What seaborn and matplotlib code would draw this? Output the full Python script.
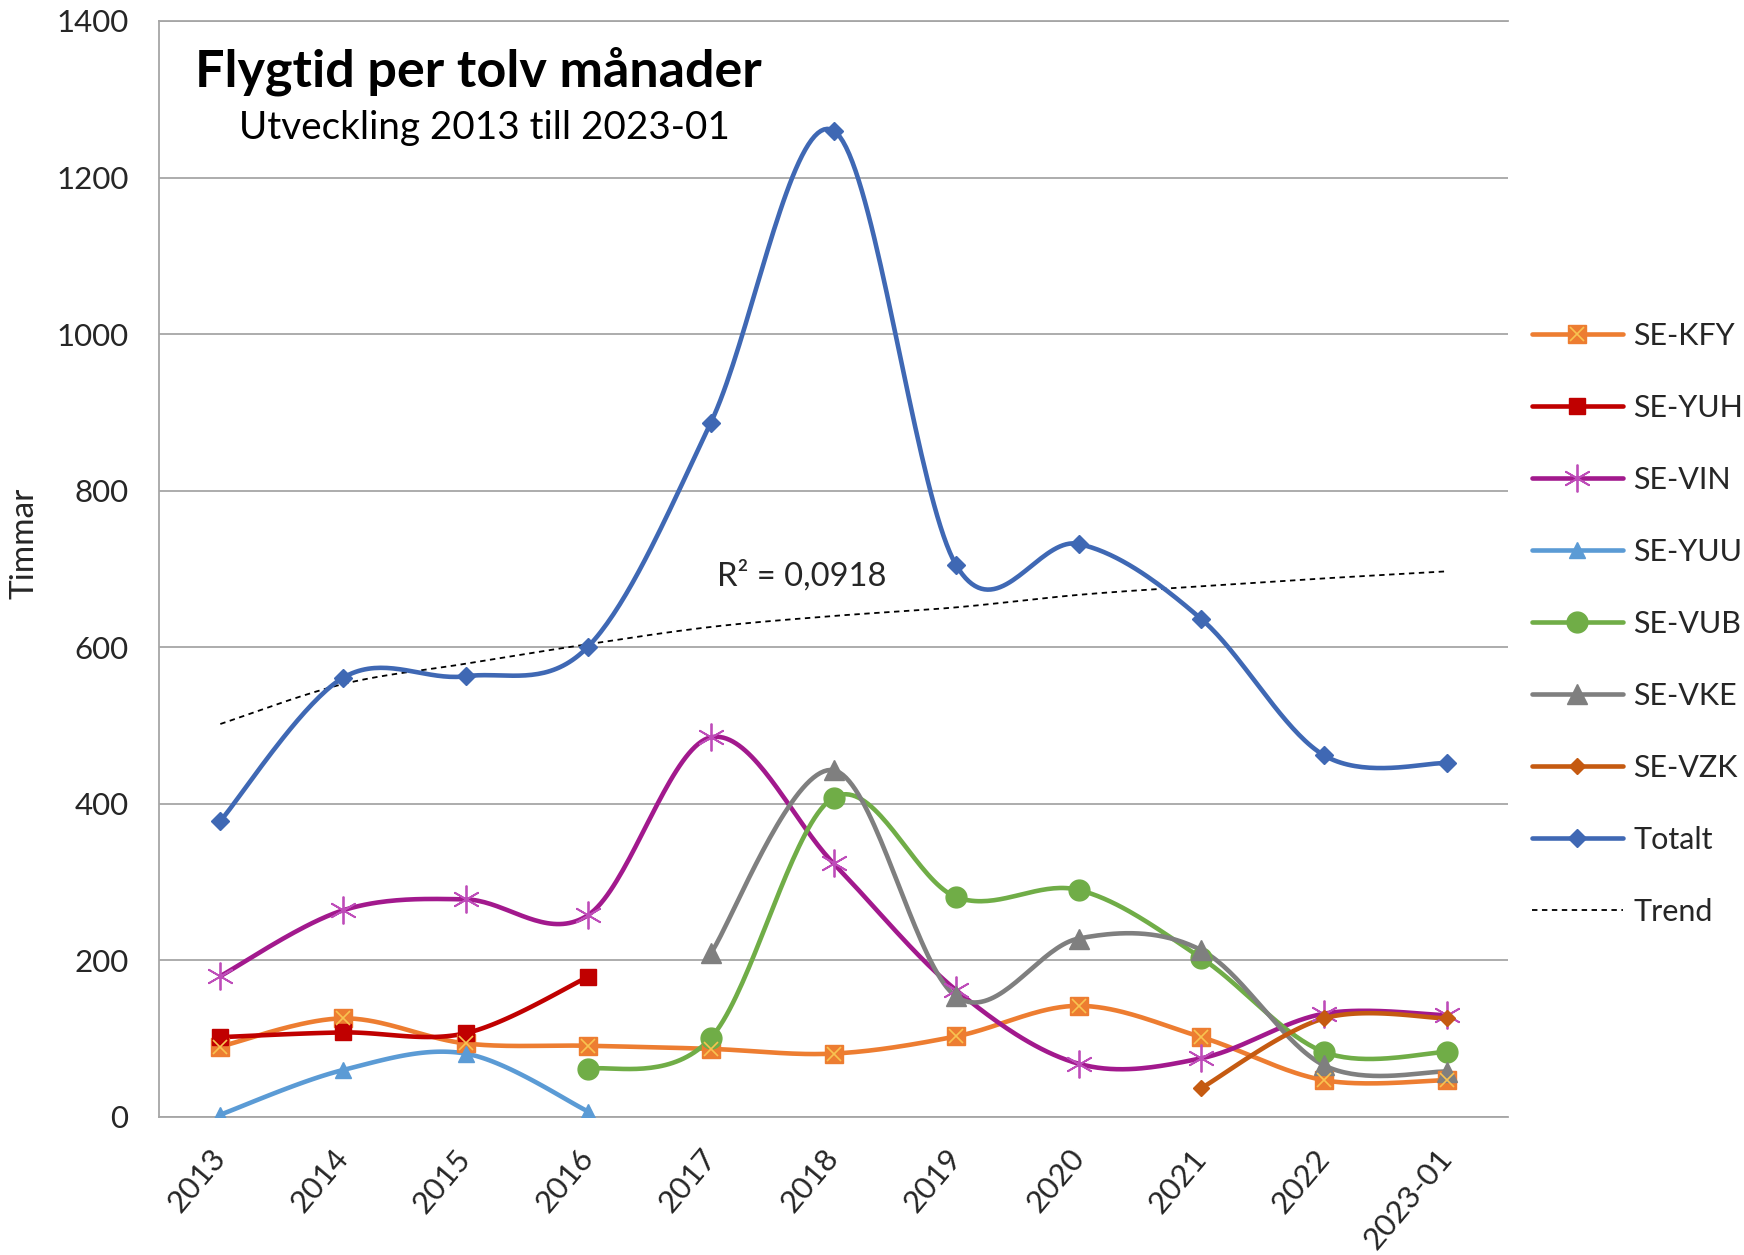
import numpy as np
import pandas as pd
import matplotlib
matplotlib.use("Agg")
import matplotlib.pyplot as plt
import matplotlib.transforms as mtransforms
from matplotlib.lines import Line2D
from matplotlib.legend_handler import HandlerTuple
import seaborn as sns

nan = np.nan
categories = ["2013", "2014", "2015", "2016", "2017", "2018", "2019", "2020", "2021", "2022", "2023-01"]
se_kfy = [90, 126, 94, 91, 87, 81, 103, 142, 102, 47, 47]
se_yuh = [102, 108, 107, 179, nan, nan, nan, nan, nan, nan, nan]
se_vin = [180, 264, 278, 258, 485, 324, 162, 68, 75, 132, 130]
se_yuu = [3, 60, 81, 7, nan, nan, nan, nan, nan, nan, nan]
se_vub = [nan, nan, nan, 61, 101, 408, 281, 290, 203, 83, 83]
se_vke = [nan, nan, nan, nan, 209, 443, 154, 228, 213, 66, 58]
se_vzk = [nan, nan, nan, nan, nan, nan, nan, nan, 37, 126, 126]
totalt = [378, 561, 563, 601, 887, 1260, 705, 732, 636, 462, 452]
trend = [502, 553, 579, 604, 626, 640, 651, 667, 678, 688, 697]
y_ticks = [0, 200, 400, 600, 800, 1000, 1200, 1400]

title = "Flygtid per tolv månader"
subtitle = "Utveckling 2013 till 2023-01"
r2_label = "R² = 0,0918"
y_label = "Timmar"

sns.set_theme(style="white")
plt.rcParams["font.family"] = ["Lato", "DejaVu Sans"]

W, H = 1744, 1255
fig = plt.figure(figsize=(W / 100, H / 100), dpi=100)
ax = fig.add_axes([159 / W, 1 - 1117 / H, (1508 - 159) / W, (1117 - 21) / H])


def smooth(xs, ys, n=40):
    pts = np.column_stack([xs, ys]).astype(float)
    if len(pts) < 2:
        return pts
    out = []
    for i in range(len(pts) - 1):
        p0 = pts[i - 1] if i > 0 else pts[i]
        p1 = pts[i]
        p2 = pts[i + 1]
        p3 = pts[i + 2] if i + 2 < len(pts) else pts[i + 1]
        c1 = p1 + (p2 - p0) / 6.0
        c2 = p2 - (p3 - p1) / 6.0
        t = np.linspace(0, 1, n)[:, None]
        seg = (1 - t) ** 3 * p1 + 3 * (1 - t) ** 2 * t * c1 + 3 * (1 - t) * t ** 2 * c2 + t ** 3 * p2
        out.append(seg if i == 0 else seg[1:])
    return np.vstack(out)


series = [
    ("SE-KFY", se_kfy, "#ED7D31", dict(marker="s", ms=13, mfc="#ED7D31", mec="#ED7D31"), dict(marker="x", ms=10, mec="#F8C350", mew=1.2)),
    ("SE-YUH", se_yuh, "#C00000", dict(marker="s", ms=12, mfc="#C00000", mec="#C00000"), None),
    ("SE-VIN", se_vin, "#A2198D", dict(marker=(6, 2, 0), ms=20, mfc="none", mec="#BE4CB9", mew=1.3), None),
    ("SE-YUU", se_yuu, "#5B9BD5", dict(marker="^", ms=11, mfc="#5B9BD5", mec="#5B9BD5"), None),
    ("SE-VUB", se_vub, "#70AD47", dict(marker="o", ms=15, mfc="#70AD47", mec="#70AD47"), None),
    ("SE-VKE", se_vke, "#7F7F7F", dict(marker="^", ms=15, mfc="#7F7F7F", mec="#7F7F7F"), None),
    ("SE-VZK", se_vzk, "#C55A11", dict(marker="D", ms=8, mfc="#C55A11", mec="#C55A11"), None),
    ("Totalt", totalt, "#3F68B4", dict(marker="D", ms=9, mfc="#3F68B4", mec="#3F68B4"), None),
]

lw = 3.3
x_idx = np.arange(len(categories))
handles, labels = [], []
for name, vals, color, mk, extra in series:
    v = np.array(vals, dtype=float)
    ok = ~np.isnan(v)
    xs, ys = x_idx[ok], v[ok]
    curve = smooth(xs, ys)
    df = pd.DataFrame({"x": curve[:, 0], "y": curve[:, 1]})
    sns.lineplot(data=df, x="x", y="y", ax=ax, color=color, lw=lw, sort=False,
                 estimator=None, legend=False, solid_capstyle="round", zorder=3)
    ax.plot(xs, ys, linestyle="none", zorder=4, **mk)
    h = Line2D([], [], color=color, lw=lw, **mk)
    if extra is not None:
        ax.plot(xs, ys, linestyle="none", zorder=5, **extra)
        h = (h, Line2D([], [], linestyle="none", **extra))
    handles.append(h)
    labels.append(name)

# trend line
tc = smooth(x_idx, np.array(trend, dtype=float))
tdf = pd.DataFrame({"x": tc[:, 0], "y": tc[:, 1]})
sns.lineplot(data=tdf, x="x", y="y", ax=ax, color="black", lw=1.3, sort=False,
             estimator=None, legend=False, linestyle=(0, (3, 2.5)), zorder=2)
handles.append(Line2D([], [], color="black", lw=1.3, linestyle=(0, (3, 2.5))))
labels.append("Trend")

ax.set_xlim(-0.5, len(categories) - 0.5)
ax.set_ylim(0, 1400)
ax.set_yticks(y_ticks)
ax.set_yticklabels([str(t) for t in y_ticks])
ax.set_xticks(x_idx)
ax.set_xticklabels(categories, rotation=50, ha="right", va="center", rotation_mode="anchor")
offset = mtransforms.ScaledTranslation(14 / 100, 0, fig.dpi_scale_trans)
for lab in ax.get_xticklabels():
    lab.set_transform(lab.get_transform() + offset)
ax.tick_params(axis="y", length=0, pad=22, labelsize=22.5, labelcolor="#262626")
ax.tick_params(axis="x", length=0, pad=26, labelsize=22.5, labelcolor="#262626")
ax.set_xlabel("")
ax.set_ylabel("")
ax.yaxis.grid(True, color="#A6A6A6", lw=1.3)
ax.xaxis.grid(False)
ax.set_axisbelow(True)
ax.spines["right"].set_visible(False)
for s in ["left", "bottom", "top"]:
    ax.spines[s].set_color("#A6A6A6")
    ax.spines[s].set_linewidth(1.3)

fig.text(25 / W, 1 - 543 / H, y_label, rotation=90, ha="center", va="center", fontsize=24, color="#262626")
fig.text(195 / W, 1 - 87 / H, title, ha="left", va="baseline", fontsize=37.5, fontweight="bold", color="black")
fig.text(239 / W, 1 - 139 / H, subtitle, ha="left", va="baseline", fontsize=27.8, color="black")
fig.text(717 / W, 1 - 576 / H, r2_label, ha="left", va="center", fontsize=23.5, color="#262626")

fig.legend(handles, labels, loc="upper left", bbox_to_anchor=(1532 / W, 1 - 322 / H),
           frameon=False, fontsize=22, labelspacing=1.44, handlelength=2.97,
           handletextpad=0.35, borderpad=0, borderaxespad=0,
           handler_map={tuple: HandlerTuple(ndivide=1)}, labelcolor="#262626")

fig.savefig("out.png", dpi=100)
